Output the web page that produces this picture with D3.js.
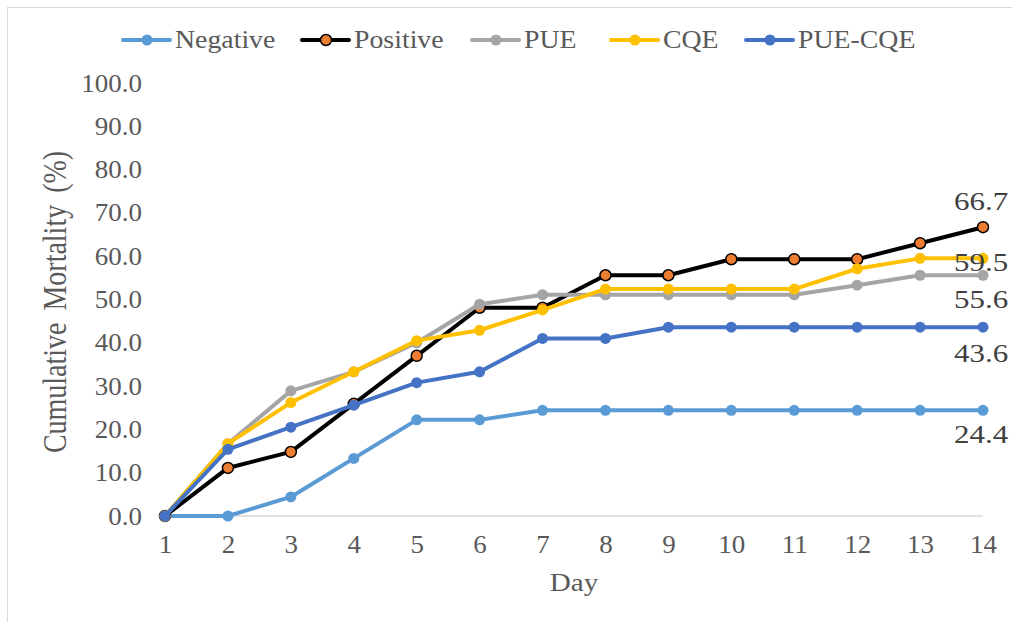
<!DOCTYPE html>
<html><head><meta charset="utf-8">
<script src="https://cdn.jsdelivr.net/npm/d3@7"></script>
<style>
html,body{margin:0;padding:0;background:#fff;}
svg{display:block;}
text{font-family:"Liberation Serif","Times New Roman",serif;}
</style></head>
<body>
<svg id="chart" width="1012" height="622"></svg>
<script>
const days = [1,2,3,4,5,6,7,8,9,10,11,12,13,14];
const seriesNames = ["Negative","Positive","PUE","CQE","PUE-CQE"];
const negative = [0,0,4.4,13.3,22.2,22.2,24.4,24.4,24.4,24.4,24.4,24.4,24.4,24.4];
const positive = [0,11.1,14.8,25.9,37.0,48.1,48.1,55.6,55.6,59.3,59.3,59.3,63.0,66.7];
const pue = [0,16.7,28.9,33.3,40.0,48.9,51.1,51.1,51.1,51.1,51.1,53.3,55.6,55.6];
const cqe = [0,16.7,26.2,33.3,40.5,42.9,47.6,52.4,52.4,52.4,52.4,57.1,59.5,59.5];
const pueCqe = [0,15.4,20.5,25.6,30.8,33.3,41.0,41.0,43.6,43.6,43.6,43.6,43.6,43.6];
const yTicks = [0,10,20,30,40,50,60,70,80,90,100];
const endLabels = ["24.4","66.7","55.6","59.5","43.6"];

const seriesValues = [negative, positive, pue, cqe, pueCqe];
const colors = ["#5B9BD5","#000000","#A5A5A5","#FFC000","#4472C4"];
const markerFill = ["#5B9BD5","#ED7D31","#A5A5A5","#FFC000","#4472C4"];
const markerStroke = ["#5B9BD5","#000000","#A5A5A5","#FFC000","#4472C4"];
const markerR = [5.5,5.5,5.5,5.5,5.5];
const markerSW = [0,1.5,0,0,0];
const labelDy = [32.5, -17, 33, 12.5, 35];

const svg = d3.select("#chart");
svg.append("rect").attr("x",7.5).attr("y",7.5).attr("width",1020).attr("height",640)
  .attr("fill","none").attr("stroke","#D9D9D9").attr("stroke-width",1);

const x = d3.scaleLinear().domain([1,14]).range([165,983]);
const y = d3.scaleLinear().domain([0,100]).range([516,83]);

function stretched(sel, px, py, sx) {
  return sel.attr("x",0).attr("y",0).attr("transform",`translate(${px},${py}) scale(${sx},1)`);
}

svg.append("line").attr("x1",x(1)).attr("x2",x(14)).attr("y1",y(0)).attr("y2",y(0))
  .attr("stroke","#D9D9D9").attr("stroke-width",1.3);

const yAxis = d3.axisLeft(y).tickValues(yTicks).tickFormat(d3.format(".1f")).tickSize(0).tickPadding(0);
const gy = svg.append("g").attr("transform","translate(142,0)").call(yAxis);
gy.select(".domain").remove();
gy.selectAll("text").attr("font-size",25).attr("fill","#595959")
  .style("font-family",'"Liberation Serif",serif').attr("transform","scale(1.08,1)");

const xAxis = d3.axisBottom(x).tickValues(days).tickFormat(d3.format("d")).tickSize(0).tickPadding(0);
const gx = svg.append("g").attr("transform","translate(0,535)").call(xAxis);
gx.select(".domain").remove();
gx.selectAll("text").attr("font-size",25).attr("fill","#595959")
  .style("font-family",'"Liberation Serif",serif').attr("transform","scale(1.08,1)");

stretched(svg.append("text"),574,591,1.12).attr("text-anchor","middle")
  .attr("font-size",26).attr("fill","#595959").text("Day");
svg.append("text").attr("transform","translate(66,302) scale(1.2,1) rotate(-90)").attr("text-anchor","middle")
  .attr("font-size",28).attr("fill","#595959").attr("word-spacing","5").text("Cumulative Mortality (%)");

const line = d3.line().x((d,i)=>x(days[i])).y(d=>y(d));

seriesValues.forEach((vals,si)=>{
  const g = svg.append("g");
  g.append("path").attr("d",line(vals)).attr("fill","none")
    .attr("stroke",colors[si]).attr("stroke-width",4).attr("stroke-linejoin","round").attr("stroke-linecap","round");
  g.selectAll("circle").data(vals).enter().append("circle")
    .attr("cx",(d,i)=>x(days[i])).attr("cy",d=>y(d)).attr("r",markerR[si])
    .attr("fill",markerFill[si]).attr("stroke",markerStroke[si]).attr("stroke-width",markerSW[si]);
});

seriesValues.forEach((vals,si)=>{
  stretched(svg.append("text"), x(14)-29, y(vals[vals.length-1])+labelDy[si], 1.24)
    .attr("font-size",25).attr("fill","#404040").text(endLabels[si]);
});

const legendX = [123,302,472,611,746];
const lg = svg.append("g");
seriesNames.forEach((n,i)=>{
  const lx = legendX[i];
  lg.append("line").attr("x1",lx).attr("x2",lx+47).attr("y1",40).attr("y2",40)
    .attr("stroke",colors[i]).attr("stroke-width",4).attr("stroke-linecap","round");
  lg.append("circle").attr("cx",lx+24).attr("cy",40).attr("r",markerR[i])
    .attr("fill",markerFill[i]).attr("stroke",markerStroke[i]).attr("stroke-width",markerSW[i]);
  stretched(lg.append("text"), lx+52, 48, 1.07).attr("font-size",26).attr("fill","#595959").text(n);
});
</script>
</body></html>
